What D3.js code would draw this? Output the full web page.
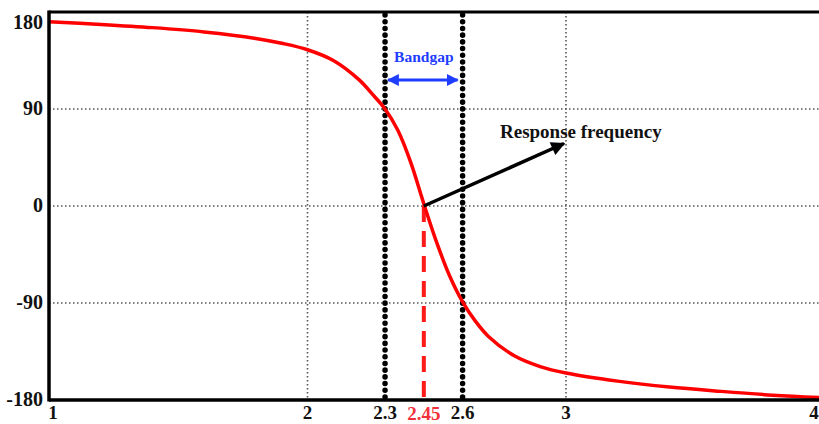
<!DOCTYPE html>
<html>
<head>
<meta charset="utf-8">
<script src="https://cdn.jsdelivr.net/npm/d3@7"></script>
<style>
  html, body { margin: 0; padding: 0; background: #fff; }
  svg { display: block; }
  text { font-family: "Liberation Serif", "Times New Roman", serif; font-weight: bold; }
</style>
</head>
<body>
<script>
'use strict';

var width = 819, height = 424;

// frequency (x) and phase in degrees (y)
var freq  = [1.0, 1.2, 1.4, 1.6, 1.8, 1.9, 2.0, 2.1, 2.2, 2.25, 2.3, 2.35, 2.4, 2.45,
             2.5, 2.55, 2.6, 2.65, 2.7, 2.8, 2.9, 3.0, 3.2, 3.4, 3.6, 3.8, 4.0];
var phase = [171, 168.5, 165.5, 161.5, 155.5, 151, 145, 135, 117, 104, 90, 70, 40, 2,
             -34, -65, -89, -107, -121, -139, -149, -155, -162.5, -168, -172, -175.5, -178];

var xTicks = [1, 2, 2.3, 2.6, 3, 4];
var yTicks = [-180, -90, 0, 90, 180];
var gridX = [2, 3];
var gridY = [-90, 0, 90];
var bandgap = [2.3, 2.6];
var resonance = 2.45;

var x = d3.scaleLinear().domain([1, 4]).range([49, 824.5]);
var y = d3.scaleLinear().domain([-180, 180]).range([400, 12]);

var svg = d3.select("body").append("svg")
  .attr("width", width)
  .attr("height", height);

var defs = svg.append("defs");
defs.append("marker")
  .attr("id", "blueHead")
  .attr("viewBox", "0 0 10 10")
  .attr("refX", 9).attr("refY", 5)
  .attr("markerWidth", 4).attr("markerHeight", 4)
  .attr("orient", "auto-start-reverse")
  .append("path").attr("d", "M0,0L10,5L0,10Z").attr("fill", "#1f3dff");
defs.append("marker")
  .attr("id", "blackHead")
  .attr("viewBox", "0 0 10 10")
  .attr("refX", 9).attr("refY", 5)
  .attr("markerWidth", 4.5).attr("markerHeight", 4)
  .attr("orient", "auto")
  .append("path").attr("d", "M0,0L10,5L0,10Z").attr("fill", "#000");

// dotted grid
svg.selectAll(".gx")
  .data(gridX)
  .enter().append("line")
  .attr("class", "gx")
  .attr("x1", function(d) { return x(d); }).attr("x2", function(d) { return x(d); })
  .attr("y1", y(180)).attr("y2", y(-180))
  .attr("stroke", "#555").attr("stroke-width", 1.6)
  .attr("stroke-dasharray", "1.5,2.5");

svg.selectAll(".gy")
  .data(gridY)
  .enter().append("line")
  .attr("class", "gy")
  .attr("x1", x(1)).attr("x2", width)
  .attr("y1", function(d) { return y(d); }).attr("y2", function(d) { return y(d); })
  .attr("stroke", "#555").attr("stroke-width", 1.6)
  .attr("stroke-dasharray", "1.5,2.5");

// bandgap edges: heavy round dots
svg.selectAll(".band")
  .data(bandgap)
  .enter().append("line")
  .attr("class", "band")
  .attr("x1", function(d) { return x(d); }).attr("x2", function(d) { return x(d); })
  .attr("y1", y(180) + 3).attr("y2", y(-180))
  .attr("stroke", "#000").attr("stroke-width", 5.5)
  .attr("stroke-linecap", "round")
  .attr("stroke-dasharray", "0.1,6.6");

// resonance marker
svg.append("line")
  .attr("x1", x(resonance)).attr("x2", x(resonance))
  .attr("y1", y(0)).attr("y2", y(-180))
  .attr("stroke", "#ff1a1a").attr("stroke-width", 4)
  .attr("stroke-dasharray", "16,9");

// phase curve
var line = d3.line()
  .x(function(d, i) { return x(freq[i]); })
  .y(function(d) { return y(d); })
  .curve(d3.curveCatmullRom.alpha(0.5));

svg.append("path")
  .datum(phase)
  .attr("d", line)
  .attr("fill", "none")
  .attr("stroke", "#ff0000")
  .attr("stroke-width", 3.5);

// frame
svg.append("line")
  .attr("x1", x(1)).attr("x2", width).attr("y1", y(180)).attr("y2", y(180))
  .attr("stroke", "#000").attr("stroke-width", 3);
svg.append("line")
  .attr("x1", x(1)).attr("x2", width).attr("y1", y(-180)).attr("y2", y(-180))
  .attr("stroke", "#000").attr("stroke-width", 3.5);
svg.append("line")
  .attr("x1", x(1)).attr("x2", x(1)).attr("y1", y(180) - 1.5).attr("y2", y(-180) + 1.5)
  .attr("stroke", "#000").attr("stroke-width", 3.5);

// tick labels
svg.selectAll(".ylab")
  .data(yTicks)
  .enter().append("text")
  .attr("class", "ylab")
  .attr("x", 43)
  .attr("y", function(d) { return d === 180 ? y(d) + 17 : y(d) + 6; })
  .attr("text-anchor", "end")
  .attr("font-size", 20)
  .attr("fill", "#111")
  .text(function(d) { return d; });

svg.selectAll(".xlab")
  .data(xTicks)
  .enter().append("text")
  .attr("class", "xlab")
  .attr("x", function(d) { return d === 1 ? x(d) + 4 : (d === 4 ? width - 5 : x(d)); })
  .attr("y", 419)
  .attr("text-anchor", "middle")
  .attr("font-size", 19)
  .attr("fill", "#111")
  .text(function(d) { return d; });

svg.append("text")
  .attr("x", x(resonance))
  .attr("y", 420)
  .attr("text-anchor", "middle")
  .attr("font-size", 19)
  .attr("fill", "#f2303a")
  .text(resonance);

// bandgap annotation
svg.append("text")
  .attr("x", (x(bandgap[0]) + x(bandgap[1])) / 2)
  .attr("y", 62)
  .attr("text-anchor", "middle")
  .attr("font-size", 15.5)
  .attr("fill", "#1f3dff")
  .text("Bandgap");

svg.append("line")
  .attr("x1", x(bandgap[0]) + 3).attr("x2", x(bandgap[1]) - 5)
  .attr("y1", 80).attr("y2", 80)
  .attr("stroke", "#1f3dff").attr("stroke-width", 3)
  .attr("marker-start", "url(#blueHead)")
  .attr("marker-end", "url(#blueHead)");

// response frequency annotation
svg.append("line")
  .attr("x1", x(resonance)).attr("y1", y(0))
  .attr("x2", x(3) - 2).attr("y2", y(58))
  .attr("stroke", "#000").attr("stroke-width", 3.5)
  .attr("marker-end", "url(#blackHead)");

svg.append("text")
  .attr("x", 500)
  .attr("y", 138)
  .attr("font-size", 19)
  .attr("fill", "#111")
  .text("Response frequency");
</script>
</body>
</html>
